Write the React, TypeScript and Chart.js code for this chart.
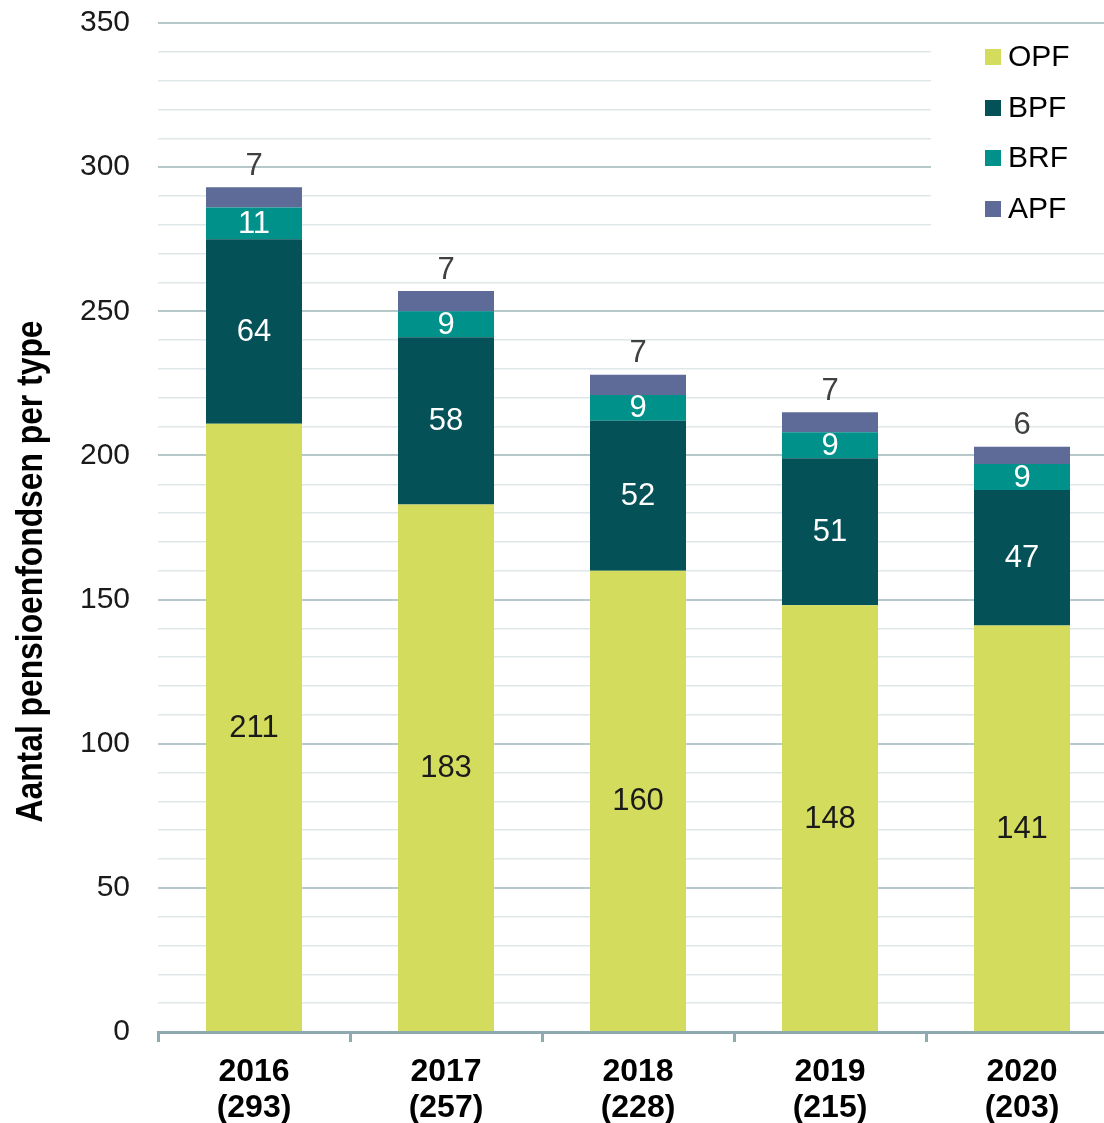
import React, { useEffect, useRef } from "react";
import { Chart, registerables } from "chart.js";

Chart.register(...registerables);

// ---- data ----
const years = ["2016", "2017", "2018", "2019", "2020"];
const opfValues = [211, 183, 160, 148, 141];
const bpfValues = [64, 58, 52, 51, 47];
const brfValues = [11, 9, 9, 9, 9];
const apfValues = [7, 7, 7, 7, 6];
const seriesNames = ["OPF", "BPF", "BRF", "APF"];
const yAxisTitle = "Aantal pensioenfondsen per type";
const yMin = 0;
const yMax = 350;
const yMinorStep = 10;
const yMajorStep = 50;

// ---- styles ----
const FONT = "'Liberation Sans', Arial, sans-serif";
const seriesColors = ["#d4dc5e", "#045157", "#00918b", "#5e6a97"];
const labelColors = ["#1a1a1a", "#ffffff", "#ffffff", "#404040"];
const axisColor = "#8eaab0";
const majorGrid = "#b7c8ca";
const minorGrid = "#dfe7e8";

const CANVAS_W = 1130;
const CANVAS_H = 1123;

const allSeries = [opfValues, bpfValues, brfValues, apfValues];
const totals = years.map((_, i) => allSeries.reduce((s, arr) => s + arr[i], 0));
const xLabels = years.map((y, i) => [y, `(${totals[i]})`]);

const valueLabelsPlugin = {
  id: "valueLabels",
  afterDatasetsDraw(chart: any) {
    const ctx = chart.ctx;
    ctx.save();
    ctx.font = `31px ${FONT}`;
    ctx.textAlign = "center";
    ctx.textBaseline = "middle";
    chart.data.datasets.forEach((ds: any, i: number) => {
      const meta = chart.getDatasetMeta(i);
      meta.data.forEach((el: any, j: number) => {
        const v = ds.data[j];
        ctx.fillStyle = labelColors[i];
        if (i === chart.data.datasets.length - 1) {
          ctx.fillText(String(v), el.x, el.y - 21);
        } else {
          ctx.fillText(String(v), el.x, (el.y + el.base) / 2 + 1);
        }
      });
    });
    ctx.restore();
  },
};

const extrasPlugin = {
  id: "extras",
  afterDraw(chart: any) {
    const ctx = chart.ctx;
    const area = chart.chartArea;
    ctx.save();
    // y axis title
    ctx.translate(42, (area.top + area.bottom) / 2 + 44);
    ctx.rotate(-Math.PI / 2);
    ctx.font = `bold 36px ${FONT}`;
    ctx.fillStyle = "#000000";
    ctx.textAlign = "center";
    ctx.textBaseline = "alphabetic";
    ctx.fillText(yAxisTitle, 0, 0, 502);
    ctx.restore();

    // legend box
    ctx.save();
    ctx.fillStyle = "#ffffff";
    ctx.fillRect(931, area.top + 2, CANVAS_W - 931, 216);
    const rowsY = [57, 108, 158, 209];
    ctx.font = `30px ${FONT}`;
    ctx.textAlign = "left";
    ctx.textBaseline = "middle";
    chart.data.datasets.forEach((ds: any, i: number) => {
      const y = rowsY[i];
      ctx.fillStyle = ds.backgroundColor;
      ctx.fillRect(985, y - 8, 16, 16);
      ctx.fillStyle = "#000000";
      ctx.fillText(ds.label, 1008, y + 1);
    });
    ctx.restore();
  },
};

export default function App() {
  const canvasRef = useRef<HTMLCanvasElement | null>(null);

  useEffect(() => {
    const canvas = canvasRef.current;
    if (!canvas) return;
    const chart = new Chart(canvas, {
      type: "bar",
      data: {
        labels: xLabels as any,
        datasets: allSeries.map((arr, i) => ({
          label: seriesNames[i],
          data: arr,
          backgroundColor: seriesColors[i],
          borderWidth: 0,
          barPercentage: 0.5,
          categoryPercentage: 1.0,
        })),
      },
      options: {
        animation: false,
        responsive: false,
        maintainAspectRatio: false,
        devicePixelRatio: 1,
        layout: { padding: { left: 0, right: CANVAS_W - 1118, top: 23, bottom: 0 } },
        plugins: {
          legend: { display: false },
          tooltip: { enabled: false },
          title: { display: false },
        },
        scales: {
          x: {
            stacked: true,
            offset: true,
            grid: {
              display: true,
              offset: true,
              drawOnChartArea: false,
              drawTicks: true,
              tickLength: 10,
              color: axisColor,
              lineWidth: 3,
            },
            border: { display: true, color: axisColor, width: 3 },
            ticks: {
              color: "#000000",
              font: { family: FONT, size: 32, weight: "bold", lineHeight: 1.13 },
              padding: 12,
              maxRotation: 0,
              autoSkip: false,
            },
            afterFit: (scale: any) => {
              scale.height = CANVAS_H - 1032;
              scale.paddingLeft = 0;
              scale.paddingRight = 0;
            },
          },
          y: {
            stacked: true,
            min: yMin,
            max: yMax,
            grid: {
              drawTicks: false,
              color: (c: any) => (c.tick && c.tick.value % yMajorStep === 0 ? majorGrid : minorGrid),
              lineWidth: (c: any) => (c.tick && c.tick.value % yMajorStep === 0 ? 2 : 1.5),
            },
            border: { display: false },
            ticks: {
              stepSize: yMinorStep,
              autoSkip: false,
              color: "#1a1a1a",
              font: { family: FONT, size: 30 },
              padding: 28,
              callback: (v: any) => (Number(v) % yMajorStep === 0 ? String(v) : ""),
            },
            afterFit: (scale: any) => {
              scale.width = 158;
              scale.paddingTop = 0;
              scale.paddingBottom = 0;
            },
          },
        },
      },
      plugins: [valueLabelsPlugin, extrasPlugin],
    });
    return () => chart.destroy();
  }, []);

  return (
    <div
      style={{
        position: "fixed",
        left: 0,
        top: 0,
        width: 1104,
        height: 1123,
        overflow: "hidden",
        background: "#ffffff",
      }}
    >
      <canvas
        ref={canvasRef}
        width={CANVAS_W}
        height={CANVAS_H}
        style={{ width: CANVAS_W, height: CANVAS_H, display: "block" }}
      />
    </div>
  );
}
